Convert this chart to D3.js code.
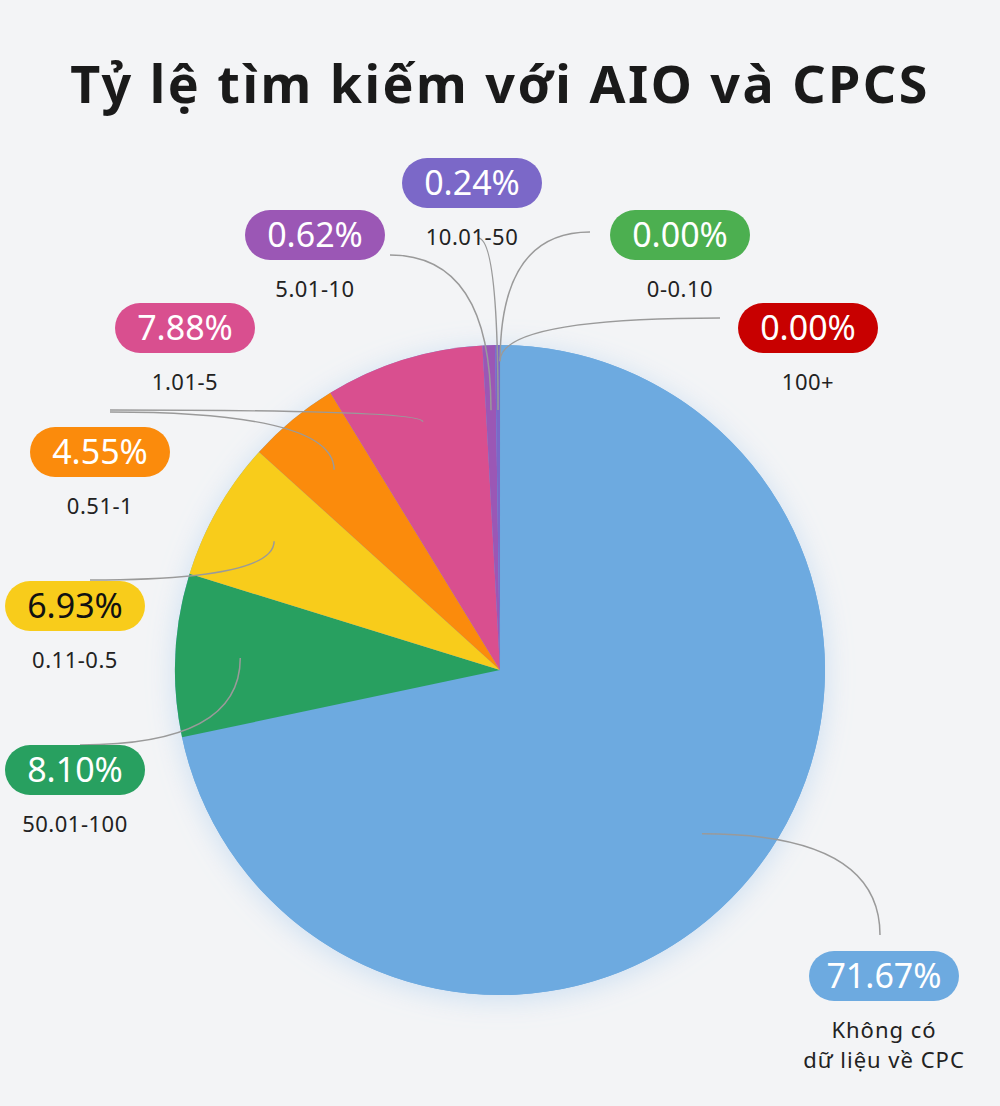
<!DOCTYPE html>
<html><head><meta charset="utf-8">
<script src="https://cdn.jsdelivr.net/npm/d3@7"></script>
<style>body{margin:0;background:#f3f4f6;font-family:"Noto Sans",sans-serif}</style>
</head><body><svg id="c" width="1000" height="1106"></svg>
<script>
const categories = ["100+","0-0.10","Không có\ndữ liệu về CPC","50.01-100","0.11-0.5","0.51-1","1.01-5","5.01-10","10.01-50"];
const values = [0.004,0.004,71.67,8.10,6.93,4.55,7.88,0.62,0.24];
const valueLabels = ["0.00%","0.00%","71.67%","8.10%","6.93%","4.55%","7.88%","0.62%","0.24%"];
const colors = ["#c80000","#4caf50","#6daae0","#28a060","#f8cc1b","#fb8b0c","#d94f8f","#9b57b5","#7b68c8"];
const textColors = ["#fff","#fff","#fff","#fff","#111","#fff","#fff","#fff","#fff"];
// label layout: pill centre, pill width, leader end
const pillPos = [[808,328,140],[680,235,140],[884,976,150],[75,770,140],[75,606,140],[100,452,140],[185,328,140],[315,235,140],[472,183,140]];
const leaderEnd = [[720,318],[590,232],[880,935],[80,745],[90,580],[110,412],[110,410],[390,255],[478,238]];

const svg = d3.select("#c");
const defs = svg.append("defs");
const f = defs.append("filter").attr("id","sh").attr("x","-20%").attr("y","-20%").attr("width","140%").attr("height","140%");
f.append("feDropShadow").attr("dx",0).attr("dy",4).attr("stdDeviation",14).attr("flood-color","#9cc4ec").attr("flood-opacity",0.45);

svg.append("text").attr("x",500).attr("y",103).attr("text-anchor","middle")
  .attr("font-size",52).attr("font-weight",700).attr("letter-spacing",2.5).attr("fill","#1a1a1a")
  .text("Tỷ lệ tìm kiếm với AIO và CPCS");

const cx=500, cy=670, R=325;
const pie = d3.pie().sort(null).value(d=>d)(values);
const arc = d3.arc().innerRadius(0).outerRadius(R);
const g = svg.append("g").attr("transform",`translate(${cx},${cy})`);
g.append("circle").attr("r",R).attr("fill","#6daae0").attr("filter","url(#sh)");
g.selectAll("path").data(pie).join("path").attr("d",arc).attr("fill",(d,i)=>colors[i]);

// leader lines
const inner = d3.arc().innerRadius(R*0.72).outerRadius(R*0.72);
pie.forEach((d,i)=>{
  let a=(d.startAngle+d.endAngle)/2;
  let rr = i<2 ? R*0.95 : R*0.8;
  if(i===2){rr=R*0.8;}
  const sx=cx+rr*Math.sin(a), sy=cy-rr*Math.cos(a);
  const [ex,ey]=leaderEnd[i];
  const mx = i===2 ? ex : (sx+ex)/2, my = i===2 ? sy+40 : Math.min(sy,ey)-10;
  svg.append("path").attr("d",`M${sx},${sy} Q${i===2?ex:sx},${i===2?sy:ey} ${ex},${ey}`)
    .attr("fill","none").attr("stroke","#9a9a9a").attr("stroke-width",1.5);
});

pie.forEach((d,i)=>{
  const [px,py,w]=pillPos[i];
  svg.append("rect").attr("x",px-w/2).attr("y",py-25).attr("width",w).attr("height",50).attr("rx",25)
    .attr("fill",colors[i]);
  svg.append("text").attr("x",px).attr("y",py+12).attr("text-anchor","middle").attr("font-size",34)
    .attr("fill",textColors[i]).text(valueLabels[i]);
  const lines = categories[i].split("\n");
  lines.forEach((l,k)=>{
    svg.append("text").attr("x",px).attr("y",py+62+k*30).attr("text-anchor","middle")
      .attr("font-size",22).attr("letter-spacing",i===2?1:0.5).attr("fill","#222").text(l);
  });
});
</script></body></html>
